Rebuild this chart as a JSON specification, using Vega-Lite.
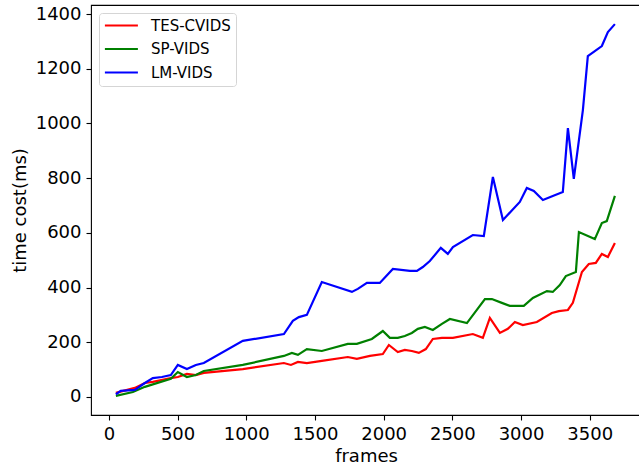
{
  "$schema": "https://vega.github.io/schema/vega-lite/v6.json",
  "autosize": "none",
  "padding": {"left": 91, "top": 5, "right": 0, "bottom": 50},
  "width": 550,
  "height": 410,
  "background": "white",
  "config": {
    "font": "DejaVu Sans",
    "view": {"stroke": "black", "strokeWidth": 1.1},
    "axis": {
      "labelFont": "DejaVu Sans",
      "labelFontSize": 18,
      "labelColor": "black",
      "titleFont": "DejaVu Sans",
      "titleFontSize": 18,
      "titleFontWeight": "normal",
      "titleColor": "black",
      "tickColor": "black",
      "tickSize": 5,
      "tickWidth": 1.1,
      "labelPadding": 5,
      "format": "d",
      "domain": false,
      "grid": false
    }
  },
  "data": {
    "values": [
      {"method": "TES-CVIDS", "frames": 51, "cost": 15},
      {"method": "TES-CVIDS", "frames": 189, "cost": 33},
      {"method": "TES-CVIDS", "frames": 262, "cost": 51},
      {"method": "TES-CVIDS", "frames": 320, "cost": 55},
      {"method": "TES-CVIDS", "frames": 451, "cost": 69},
      {"method": "TES-CVIDS", "frames": 502, "cost": 73},
      {"method": "TES-CVIDS", "frames": 568, "cost": 84},
      {"method": "TES-CVIDS", "frames": 633, "cost": 80},
      {"method": "TES-CVIDS", "frames": 691, "cost": 88},
      {"method": "TES-CVIDS", "frames": 975, "cost": 102},
      {"method": "TES-CVIDS", "frames": 1274, "cost": 124},
      {"method": "TES-CVIDS", "frames": 1325, "cost": 117},
      {"method": "TES-CVIDS", "frames": 1376, "cost": 128},
      {"method": "TES-CVIDS", "frames": 1441, "cost": 124},
      {"method": "TES-CVIDS", "frames": 1550, "cost": 132},
      {"method": "TES-CVIDS", "frames": 1739, "cost": 146},
      {"method": "TES-CVIDS", "frames": 1805, "cost": 139},
      {"method": "TES-CVIDS", "frames": 1900, "cost": 150},
      {"method": "TES-CVIDS", "frames": 1994, "cost": 157},
      {"method": "TES-CVIDS", "frames": 2038, "cost": 190},
      {"method": "TES-CVIDS", "frames": 2103, "cost": 164},
      {"method": "TES-CVIDS", "frames": 2154, "cost": 172},
      {"method": "TES-CVIDS", "frames": 2205, "cost": 168},
      {"method": "TES-CVIDS", "frames": 2256, "cost": 161},
      {"method": "TES-CVIDS", "frames": 2307, "cost": 175},
      {"method": "TES-CVIDS", "frames": 2358, "cost": 212},
      {"method": "TES-CVIDS", "frames": 2424, "cost": 216},
      {"method": "TES-CVIDS", "frames": 2504, "cost": 216},
      {"method": "TES-CVIDS", "frames": 2649, "cost": 230},
      {"method": "TES-CVIDS", "frames": 2722, "cost": 216},
      {"method": "TES-CVIDS", "frames": 2773, "cost": 289},
      {"method": "TES-CVIDS", "frames": 2846, "cost": 234},
      {"method": "TES-CVIDS", "frames": 2904, "cost": 249},
      {"method": "TES-CVIDS", "frames": 2955, "cost": 274},
      {"method": "TES-CVIDS", "frames": 3013, "cost": 263},
      {"method": "TES-CVIDS", "frames": 3115, "cost": 274},
      {"method": "TES-CVIDS", "frames": 3224, "cost": 307},
      {"method": "TES-CVIDS", "frames": 3275, "cost": 314},
      {"method": "TES-CVIDS", "frames": 3341, "cost": 318},
      {"method": "TES-CVIDS", "frames": 3377, "cost": 344},
      {"method": "TES-CVIDS", "frames": 3443, "cost": 457},
      {"method": "TES-CVIDS", "frames": 3493, "cost": 486},
      {"method": "TES-CVIDS", "frames": 3544, "cost": 490},
      {"method": "TES-CVIDS", "frames": 3588, "cost": 523},
      {"method": "TES-CVIDS", "frames": 3632, "cost": 512},
      {"method": "TES-CVIDS", "frames": 3683, "cost": 563},

      {"method": "SP-VIDS", "frames": 51, "cost": 4},
      {"method": "SP-VIDS", "frames": 175, "cost": 18},
      {"method": "SP-VIDS", "frames": 262, "cost": 37},
      {"method": "SP-VIDS", "frames": 451, "cost": 66},
      {"method": "SP-VIDS", "frames": 502, "cost": 91},
      {"method": "SP-VIDS", "frames": 568, "cost": 73},
      {"method": "SP-VIDS", "frames": 633, "cost": 80},
      {"method": "SP-VIDS", "frames": 691, "cost": 95},
      {"method": "SP-VIDS", "frames": 975, "cost": 117},
      {"method": "SP-VIDS", "frames": 1274, "cost": 150},
      {"method": "SP-VIDS", "frames": 1332, "cost": 161},
      {"method": "SP-VIDS", "frames": 1376, "cost": 154},
      {"method": "SP-VIDS", "frames": 1441, "cost": 175},
      {"method": "SP-VIDS", "frames": 1550, "cost": 168},
      {"method": "SP-VIDS", "frames": 1739, "cost": 194},
      {"method": "SP-VIDS", "frames": 1805, "cost": 194},
      {"method": "SP-VIDS", "frames": 1914, "cost": 212},
      {"method": "SP-VIDS", "frames": 1994, "cost": 241},
      {"method": "SP-VIDS", "frames": 2045, "cost": 216},
      {"method": "SP-VIDS", "frames": 2103, "cost": 216},
      {"method": "SP-VIDS", "frames": 2154, "cost": 223},
      {"method": "SP-VIDS", "frames": 2205, "cost": 234},
      {"method": "SP-VIDS", "frames": 2249, "cost": 249},
      {"method": "SP-VIDS", "frames": 2300, "cost": 256},
      {"method": "SP-VIDS", "frames": 2358, "cost": 245},
      {"method": "SP-VIDS", "frames": 2424, "cost": 267},
      {"method": "SP-VIDS", "frames": 2482, "cost": 285},
      {"method": "SP-VIDS", "frames": 2606, "cost": 270},
      {"method": "SP-VIDS", "frames": 2737, "cost": 358},
      {"method": "SP-VIDS", "frames": 2788, "cost": 358},
      {"method": "SP-VIDS", "frames": 2860, "cost": 344},
      {"method": "SP-VIDS", "frames": 2918, "cost": 333},
      {"method": "SP-VIDS", "frames": 3020, "cost": 333},
      {"method": "SP-VIDS", "frames": 3086, "cost": 362},
      {"method": "SP-VIDS", "frames": 3188, "cost": 387},
      {"method": "SP-VIDS", "frames": 3231, "cost": 384},
      {"method": "SP-VIDS", "frames": 3282, "cost": 409},
      {"method": "SP-VIDS", "frames": 3326, "cost": 442},
      {"method": "SP-VIDS", "frames": 3399, "cost": 457},
      {"method": "SP-VIDS", "frames": 3421, "cost": 603},
      {"method": "SP-VIDS", "frames": 3537, "cost": 577},
      {"method": "SP-VIDS", "frames": 3588, "cost": 636},
      {"method": "SP-VIDS", "frames": 3624, "cost": 643},
      {"method": "SP-VIDS", "frames": 3683, "cost": 735},

      {"method": "LM-VIDS", "frames": 51, "cost": 10},
      {"method": "LM-VIDS", "frames": 87, "cost": 22},
      {"method": "LM-VIDS", "frames": 189, "cost": 26},
      {"method": "LM-VIDS", "frames": 262, "cost": 51},
      {"method": "LM-VIDS", "frames": 320, "cost": 69},
      {"method": "LM-VIDS", "frames": 386, "cost": 73},
      {"method": "LM-VIDS", "frames": 451, "cost": 80},
      {"method": "LM-VIDS", "frames": 502, "cost": 117},
      {"method": "LM-VIDS", "frames": 568, "cost": 102},
      {"method": "LM-VIDS", "frames": 633, "cost": 117},
      {"method": "LM-VIDS", "frames": 691, "cost": 124},
      {"method": "LM-VIDS", "frames": 975, "cost": 205},
      {"method": "LM-VIDS", "frames": 1274, "cost": 230},
      {"method": "LM-VIDS", "frames": 1339, "cost": 278},
      {"method": "LM-VIDS", "frames": 1383, "cost": 292},
      {"method": "LM-VIDS", "frames": 1441, "cost": 300},
      {"method": "LM-VIDS", "frames": 1550, "cost": 420},
      {"method": "LM-VIDS", "frames": 1769, "cost": 384},
      {"method": "LM-VIDS", "frames": 1812, "cost": 395},
      {"method": "LM-VIDS", "frames": 1878, "cost": 417},
      {"method": "LM-VIDS", "frames": 1972, "cost": 417},
      {"method": "LM-VIDS", "frames": 2067, "cost": 468},
      {"method": "LM-VIDS", "frames": 2191, "cost": 461},
      {"method": "LM-VIDS", "frames": 2242, "cost": 461},
      {"method": "LM-VIDS", "frames": 2285, "cost": 475},
      {"method": "LM-VIDS", "frames": 2336, "cost": 497},
      {"method": "LM-VIDS", "frames": 2416, "cost": 545},
      {"method": "LM-VIDS", "frames": 2467, "cost": 523},
      {"method": "LM-VIDS", "frames": 2504, "cost": 548},
      {"method": "LM-VIDS", "frames": 2649, "cost": 592},
      {"method": "LM-VIDS", "frames": 2729, "cost": 588},
      {"method": "LM-VIDS", "frames": 2795, "cost": 804},
      {"method": "LM-VIDS", "frames": 2868, "cost": 647},
      {"method": "LM-VIDS", "frames": 2991, "cost": 713},
      {"method": "LM-VIDS", "frames": 3042, "cost": 764},
      {"method": "LM-VIDS", "frames": 3093, "cost": 753},
      {"method": "LM-VIDS", "frames": 3159, "cost": 720},
      {"method": "LM-VIDS", "frames": 3231, "cost": 735},
      {"method": "LM-VIDS", "frames": 3304, "cost": 749},
      {"method": "LM-VIDS", "frames": 3341, "cost": 983},
      {"method": "LM-VIDS", "frames": 3384, "cost": 797},
      {"method": "LM-VIDS", "frames": 3450, "cost": 1049},
      {"method": "LM-VIDS", "frames": 3486, "cost": 1246},
      {"method": "LM-VIDS", "frames": 3588, "cost": 1283},
      {"method": "LM-VIDS", "frames": 3632, "cost": 1334},
      {"method": "LM-VIDS", "frames": 3683, "cost": 1363}
    ]
  },
  "mark": {"type": "line", "strokeWidth": 2.2, "clip": true},
  "encoding": {
    "x": {
      "field": "frames",
      "type": "quantitative",
      "scale": {"domain": [-130, 3873], "nice": false, "zero": false},
      "axis": {"values": [0, 500, 1000, 1500, 2000, 2500, 3000, 3500], "title": "frames", "titlePadding": 4}
    },
    "y": {
      "field": "cost",
      "type": "quantitative",
      "scale": {"domain": [-66, 1433], "nice": false, "zero": false},
      "axis": {"values": [0, 200, 400, 600, 800, 1000, 1200, 1400], "title": "time cost(ms)", "titlePadding": 6}
    },
    "color": {
      "field": "method",
      "type": "nominal",
      "sort": null,
      "scale": {"domain": ["TES-CVIDS", "SP-VIDS", "LM-VIDS"], "range": ["#ff0000", "#008000", "#0000ff"]},
      "legend": {
        "title": null,
        "orient": "none",
        "legendX": 8,
        "legendY": 8,
        "fillColor": "white",
        "strokeColor": "#d5d5d5",
        "cornerRadius": 3,
        "padding": 5,
        "rowPadding": 7.5,
        "symbolType": "M-1.2,0H4.8",
        "symbolSize": 121,
        "symbolStrokeWidth": 2.2,
        "labelOffset": 32,
        "labelFont": "DejaVu Sans",
        "labelFontSize": 15,
        "labelColor": "black"
      }
    }
  }
}
